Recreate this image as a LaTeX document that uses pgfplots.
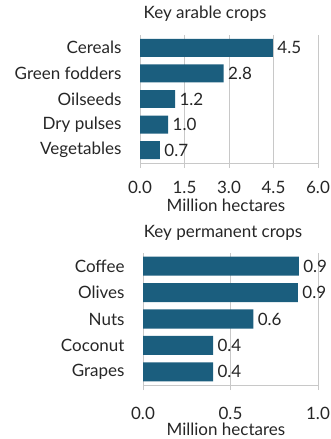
\documentclass[border=0pt]{standalone}
\usepackage{pgfplots}
\pgfplotsset{compat=1.18}
\usepackage{fontspec}
\setmainfont{Lato}
\definecolor{bar}{HTML}{1B5E7E}
\definecolor{gridc}{HTML}{C8C8C8}
\newcommand{\fs}{\fontsize{17}{19}\selectfont}
\begin{document}
\begin{tikzpicture}
\path (0pt,0pt) rectangle (331pt,439pt);
\pgfplotsset{
  common/.style={
    scale only axis,
    xbar,
    axis x line*=bottom,
    axis y line*=left,
    axis line style={gridc, line width=0.8pt},
    ymin=-0.5, ymax=4.5,
    ytick={0,1,2,3,4},
    major y tick style={draw=none},
    extra y ticks={-0.5,0.5,1.5,2.5,3.5,4.5},
    extra y tick labels={},
    extra y tick style={tick style={gridc, line width=0.8pt}, major tick length=5pt},
    xmajorgrids,
    grid style={gridc, line width=0.8pt},
    tick align=outside,
    major tick length=5pt,
    x tick style={gridc, line width=0.8pt},
    tick label style={font=\fs, text=black!85},
    /pgf/number format/assume math mode=true,
    /pgf/number format/fixed, /pgf/number format/fixed zerofill, /pgf/number format/precision=1,
    yticklabel style={xshift=-10pt},
    xlabel={Million hectares},
    nodes near coords,
    point meta=explicit symbolic,
    every node near coord/.append style={font=\fs, text=black!85, anchor=west, xshift=1pt},
    clip=false,
  }
}
\begin{axis}[common,
  at={(140pt,276pt)}, anchor=south west,
  width=178pt, height=128pt,
  xmin=0, xmax=6, xtick={0,1.5,3,4.5,6},
  xticklabel style={anchor=center, inner sep=0pt, yshift=-19pt},
  xlabel style={font=\fs, text=black!85, inner sep=0pt, at={(axis description cs:0.483,0)}, anchor=center, yshift=-42pt},
  yticklabels={Vegetables,Dry pulses,Oilseeds,Green fodders,Cereals},
  bar width=0.7,
]
\addplot[fill=bar, draw=none] table[meta=l] {
x y l
0.67 0 0.7
0.95 1 1.0
1.18 2 1.2
2.82 3 2.8
4.48 4 4.5
};
\end{axis}
\node[font=\fs, text=black!85] at (205pt,425pt) {Key arable crops};
\begin{axis}[common,
  at={(143pt,54pt)}, anchor=south west,
  width=175pt, height=132pt,
  xmin=0, xmax=1, xtick={0,0.5,1},
  xticklabel style={anchor=center, inner sep=0pt, yshift=-23pt},
  xlabel style={font=\fs, text=black!85, inner sep=0pt, at={(axis description cs:0.474,0)}, anchor=center, yshift=-44pt},
  yticklabels={Grapes,Coconut,Nuts,Olives,Coffee},
  bar width=0.72,
]
\addplot[fill=bar, draw=none] table[meta=l] {
x y l
0.40 0 0.4
0.40 1 0.4
0.63 2 0.6
0.885 3 0.9
0.89 4 0.9
};
\end{axis}
\node[font=\fs, text=black!85] at (223pt,206pt) {Key permanent crops};
\end{tikzpicture}
\end{document}
